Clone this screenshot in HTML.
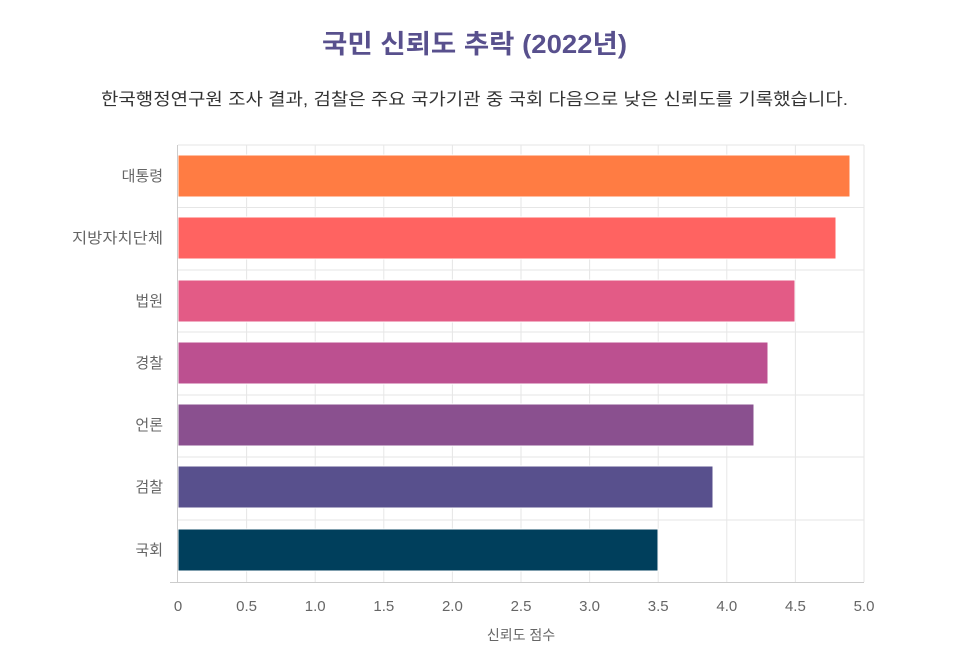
<!DOCTYPE html>
<html><head><meta charset="utf-8"><style>
body{margin:0;background:#fff;width:977px;height:660px;overflow:hidden;font-family:"Liberation Sans","Noto Sans CJK KR",sans-serif;}
</style></head><body>
<svg width="977" height="660" xmlns="http://www.w3.org/2000/svg" font-family="Liberation Sans, Noto Sans CJK KR, sans-serif">
<text x="322" y="53" textLength="305" lengthAdjust="spacingAndGlyphs" font-size="26" font-weight="bold" fill="#58508d">국민 신뢰도 추락 (2022년)</text>
<text x="101" y="105" textLength="747" lengthAdjust="spacingAndGlyphs" font-size="17" fill="#333">한국행정연구원 조사 결과, 검찰은 주요 국가기관 중 국회 다음으로 낮은 신뢰도를 기록했습니다.</text>
<g stroke="#e6e6e6" stroke-width="1">
<line x1="178" y1="145" x2="864" y2="145"/>
<line x1="178" y1="207.5" x2="864" y2="207.5"/>
<line x1="178" y1="270" x2="864" y2="270"/>
<line x1="178" y1="332" x2="864" y2="332"/>
<line x1="178" y1="395" x2="864" y2="395"/>
<line x1="178" y1="457" x2="864" y2="457"/>
<line x1="178" y1="520" x2="864" y2="520"/>
<line x1="246.6" y1="145" x2="246.6" y2="582"/>
<line x1="315.2" y1="145" x2="315.2" y2="582"/>
<line x1="383.8" y1="145" x2="383.8" y2="582"/>
<line x1="452.4" y1="145" x2="452.4" y2="582"/>
<line x1="521" y1="145" x2="521" y2="582"/>
<line x1="589.6" y1="145" x2="589.6" y2="582"/>
<line x1="658.2" y1="145" x2="658.2" y2="582"/>
<line x1="726.8" y1="145" x2="726.8" y2="582"/>
<line x1="795.4" y1="145" x2="795.4" y2="582"/>
<line x1="864" y1="145" x2="864" y2="582"/>
</g>
<g stroke="#fff" stroke-width="1">
<rect x="178" y="155" width="672" height="42" fill="#ff7c43"/>
<rect x="178" y="217" width="658" height="42" fill="#ff6361"/>
<rect x="178" y="280" width="617" height="42" fill="#e35b86"/>
<rect x="178" y="342" width="590" height="42" fill="#bc5090"/>
<rect x="178" y="404" width="576" height="42" fill="#8a508f"/>
<rect x="178" y="466" width="535" height="42" fill="#58508d"/>
<rect x="178" y="529" width="480" height="42" fill="#003f5c"/>
</g>
<line x1="177.5" y1="145" x2="177.5" y2="582" stroke="#ccc"/>
<line x1="170" y1="582.5" x2="864" y2="582.5" stroke="#ccc"/>
<g font-size="15" fill="#666" text-anchor="end">
<text x="163" y="181">대통령</text>
<text x="163" y="243" textLength="91" lengthAdjust="spacingAndGlyphs">지방자치단체</text>
<text x="163" y="306">법원</text>
<text x="163" y="368">경찰</text>
<text x="163" y="430">언론</text>
<text x="163" y="492">검찰</text>
<text x="163" y="555">국회</text>
</g>
<g font-size="15" fill="#666" text-anchor="middle">
<text x="178" y="611">0</text><text x="246.6" y="611">0.5</text><text x="315.2" y="611">1.0</text><text x="383.8" y="611">1.5</text><text x="452.4" y="611">2.0</text><text x="521" y="611">2.5</text><text x="589.6" y="611">3.0</text><text x="658.2" y="611">3.5</text><text x="726.8" y="611">4.0</text><text x="795.4" y="611">4.5</text><text x="864" y="611">5.0</text>
<text x="521" y="640" font-size="14">신뢰도 점수</text>
</g>
</svg>
</body></html>
